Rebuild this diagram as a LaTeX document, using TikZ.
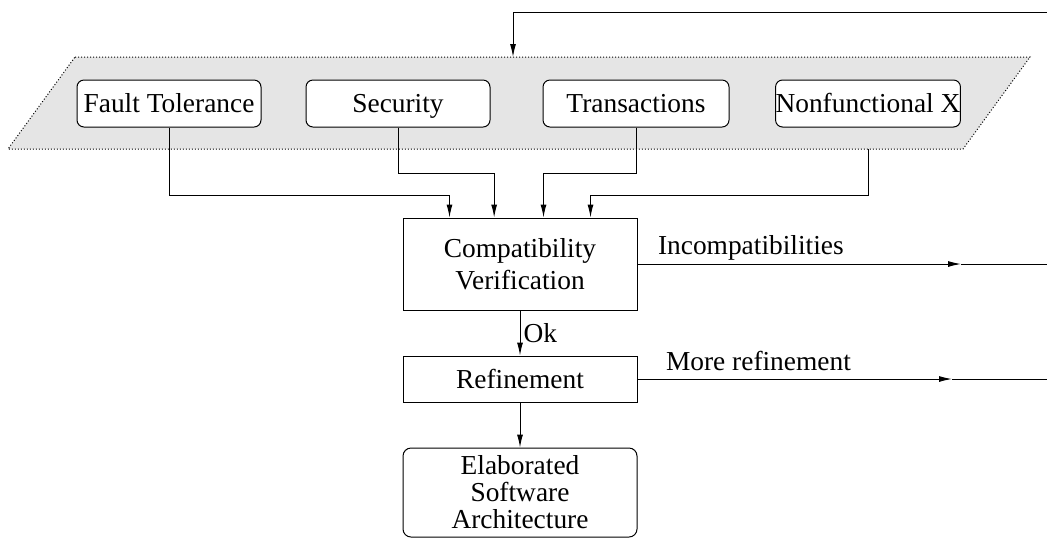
\documentclass[tikz,border=0pt]{standalone}
\usepackage{fontspec}
\setmainfont{Liberation Serif}
\usetikzlibrary{calc,arrows.meta}

\begin{document}
\begin{tikzpicture}[x=0.5pt,y=-0.5pt,line width=0.5pt,
    font=\fontsize{13.7}{16}\selectfont,
    concern/.style={draw,fill=white,rounded corners=3.5pt,inner sep=0pt,minimum width=92pt,
      minimum height=23.5pt,text height=11pt,text depth=2pt},
    stage/.style={draw,inner sep=0pt,minimum width=117pt,align=center},
    flow/.style={-{Latex[length=6.5pt,width=3pt]}}]
  \useasboundingbox (0,0) rectangle (1047,538);

  \filldraw[fill=black!10,dash pattern=on 0.5pt off 1pt]
    (75,57) coordinate (bandtl) -- (1030,57) coordinate (bandtr)
    -- (963,149) coordinate (bandbr) -- (8,149) coordinate (bandbl) -- cycle;

  \node[concern] (ft) at (169,103.5) {Fault Tolerance};
  \node[concern] (sec) at (398,103.5) {Security};
  \node[concern,minimum width=93pt] (tr) at (636,103.5) {Transactions};
  \node[concern] (nfx) at (868,103.5) {Nonfunctional X};

  \node[stage,minimum height=46pt] (compat) at (520,264) {Compatibility\\Verification};
  \node[stage,minimum height=23pt] (refine) at (520,379) {Refinement};
  \node[stage,rounded corners=4pt,minimum height=44.5pt,
    font=\fontsize{13.7}{13.5}\selectfont] (elab) at (520,492.5)
    {Elaborated\\Software\\Architecture};

  \coordinate (in1) at ($(compat.north west)!0.2!(compat.north east)$);
  \coordinate (in2) at ($(compat.north west)!0.39!(compat.north east)$);
  \coordinate (in3) at ($(compat.north west)!0.6!(compat.north east)$);
  \coordinate (in4) at ($(compat.north west)!0.8!(compat.north east)$);

  \draw[flow] (ft.south) -- ++(0,68) -| (in1);
  \draw[flow] (sec.south) -- ++(0,46) -| (in2);
  \draw[flow] (tr.south) -- ++(0,46) -| (in3);
  \draw[flow] (nfx.south |- bandbl) -- ++(0,46) -| (in4);

  \draw[flow] (compat.south) -- (refine.north)
    node[midway,right,inner sep=1.5pt] {Ok};
  \draw[flow] (refine.south) -- (elab.north);

  % loops back to the concerns
  \coordinate (fbstart) at (1047,12);
  \coordinate (fbin) at (513,57);
  \draw[flow] (fbstart) -| (fbin);

  \coordinate (inctip) at (961,264);
  \coordinate (incend) at (1047,264);
  \draw[flow] (compat.east) -- (inctip)
    node[pos=0,anchor=south west,xshift=8.5pt,inner sep=1.5pt] {Incompatibilities};
  \draw (inctip) -- (incend);

  \coordinate (moretip) at (952,379);
  \coordinate (moreend) at (1047,379);
  \draw[flow] (refine.east) -- (moretip)
    node[pos=0,anchor=south west,xshift=12.5pt,yshift=2.5pt,inner sep=1.5pt] {More refinement};
  \draw (moretip) -- (moreend);
\end{tikzpicture}
\end{document}
